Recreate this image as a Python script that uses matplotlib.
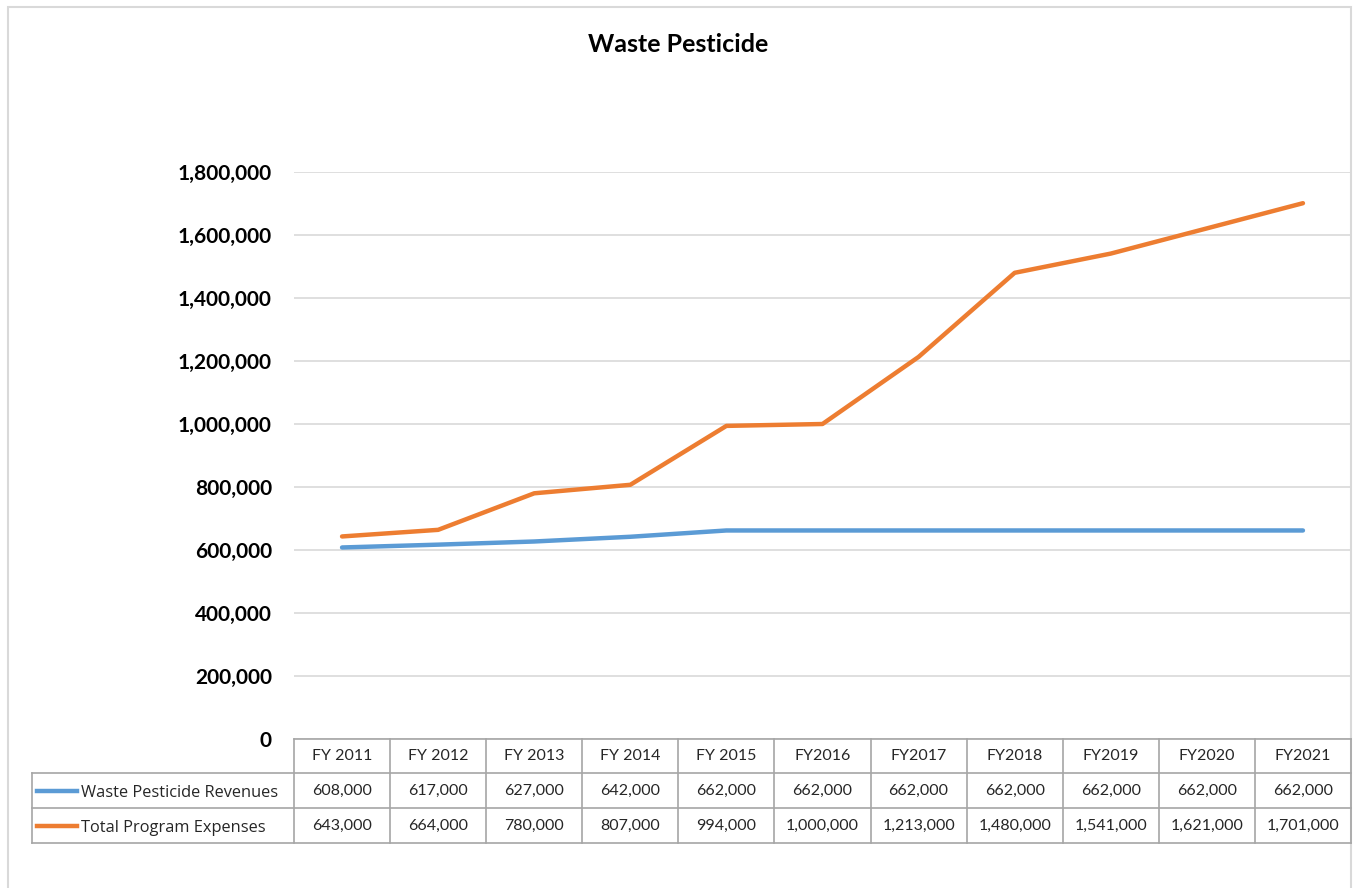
import matplotlib
matplotlib.use("Agg")
import matplotlib.pyplot as plt
from matplotlib.lines import Line2D
from matplotlib.patches import Rectangle

categories = ["FY 2011", "FY 2012", "FY 2013", "FY 2014", "FY 2015", "FY2016",
              "FY2017", "FY2018", "FY2019", "FY2020", "FY2021"]
revenues = [608000, 617000, 627000, 642000, 662000, 662000, 662000, 662000, 662000, 662000, 662000]
expenses = [643000, 664000, 780000, 807000, 994000, 1000000, 1213000, 1480000, 1541000, 1621000, 1701000]
series_names = ["Waste Pesticide Revenues", "Total Program Expenses"]
yticks = [0, 200000, 400000, 600000, 800000, 1000000, 1200000, 1400000, 1600000, 1800000]

BLUE = "#5B9BD5"
ORANGE = "#ED7D31"
W, H = 1353, 888
plt.rcParams['font.family'] = ['Lato', 'DejaVu Sans']

fig = plt.figure(figsize=(W / 100, H / 100), dpi=100)

def fx(px):
    return px / W

def fy(py):
    return 1 - py / H

# figure border
fig.add_artist(Rectangle((fx(8), fy(895)), fx(1351) - fx(8), fy(7) - fy(895),
                         transform=fig.transFigure, fill=False, edgecolor="#D9D9D9", lw=1.5))

left, right, top, bottom = 294, 1351, 172, 739
ax = fig.add_axes([fx(left), fy(bottom), fx(right) - fx(left), fy(top) - fy(bottom)])
n = len(categories)
x = list(range(n))
ax.plot(x, revenues, color=BLUE, lw=3.2, solid_capstyle="round", solid_joinstyle="round", zorder=3)
ax.plot(x, expenses, color=ORANGE, lw=3.2, solid_capstyle="round", solid_joinstyle="round", zorder=3)
ax.set_xlim(-0.5, n - 0.5)
ax.set_ylim(0, 1800000)
ax.set_yticks(yticks)
ax.set_yticklabels([f"{v:,}" for v in yticks], fontsize=15, fontweight="bold")
ax.tick_params(axis="y", length=0, pad=16)
ax.set_xticks([])
for s in ax.spines.values():
    s.set_visible(False)
ax.grid(axis="y", color="#D9D9D9", lw=1.2)
ax.set_axisbelow(True)

fig.text(fx(678), fy(45), "Waste Pesticide", ha="center", va="center", fontsize=18, fontweight="bold")

# data table
col_w = (right - left) / n
rows_y = [739, 773, 808, 843]
tc = "#A6A6A6"
def hline(y, x0, x1):
    fig.add_artist(Line2D([fx(x0), fx(x1)], [fy(y), fy(y)], color=tc, lw=1.2, transform=fig.transFigure))
def vline(xp, y0, y1):
    fig.add_artist(Line2D([fx(xp), fx(xp)], [fy(y0), fy(y1)], color=tc, lw=1.2, transform=fig.transFigure))

hline(rows_y[0], left, right)
for y in rows_y[1:]:
    hline(y, 32, right)
for k in range(n + 1):
    vline(left + k * col_w, rows_y[0], rows_y[3])
vline(32, rows_y[1], rows_y[3])

tcol = "#262626"
for k, c in enumerate(categories):
    cx = left + (k + 0.5) * col_w
    fig.text(fx(cx), fy((rows_y[0] + rows_y[1]) / 2), c, ha="center", va="center", fontsize=11.5, color=tcol)
    fig.text(fx(cx), fy((rows_y[1] + rows_y[2]) / 2), f"{revenues[k]:,}", ha="center", va="center", fontsize=11.5, color=tcol)
    fig.text(fx(cx), fy((rows_y[2] + rows_y[3]) / 2), f"{expenses[k]:,}", ha="center", va="center", fontsize=11.5, color=tcol)

for i, (name, col) in enumerate(zip(series_names, [BLUE, ORANGE])):
    cy = (rows_y[1 + i] + rows_y[2 + i]) / 2
    fig.add_artist(Line2D([fx(37), fx(77)], [fy(cy), fy(cy)], color=col, lw=3.2, transform=fig.transFigure))
    fig.text(fx(81), fy(cy + 2), name, ha="left", va="center", fontsize=11.8, color=tcol,
             family=["Open Sans", "DejaVu Sans"])

fig.savefig("out.png", dpi=100)
